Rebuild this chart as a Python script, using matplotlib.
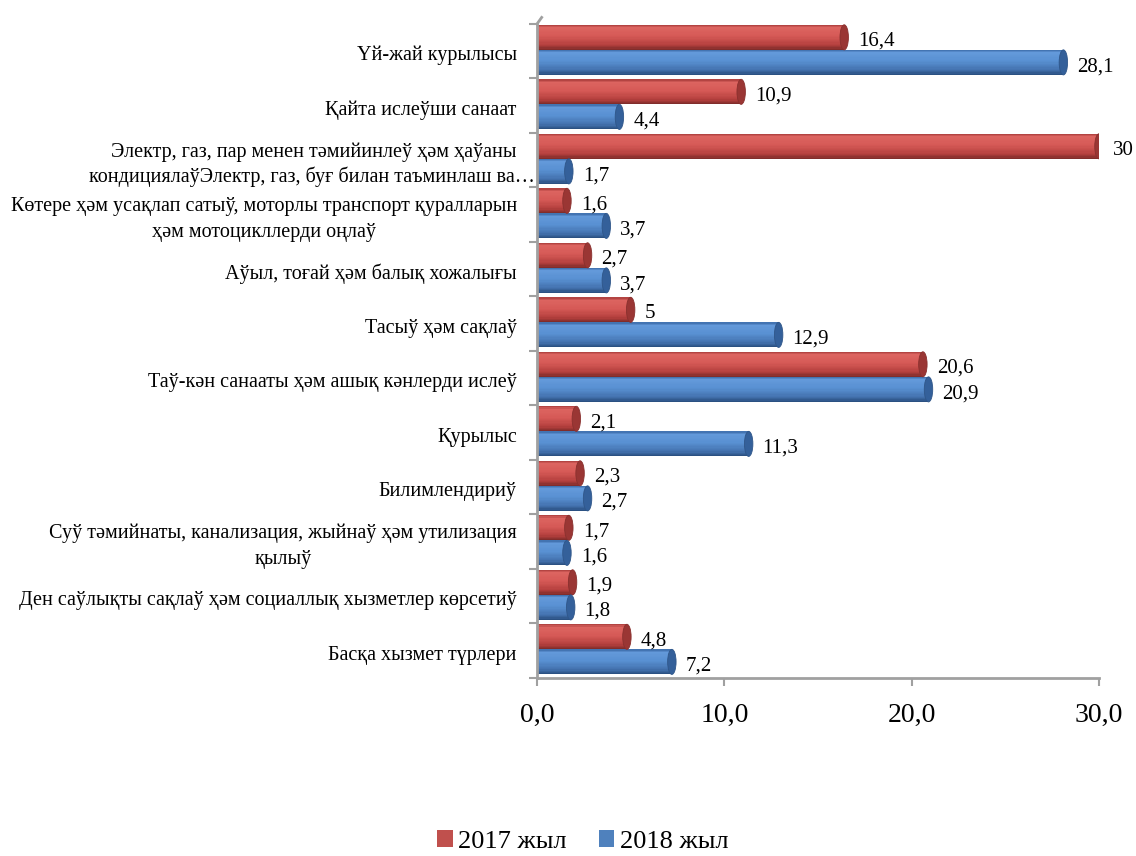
import numpy as np
import matplotlib
matplotlib.use("Agg")
import matplotlib.pyplot as plt
from matplotlib.patches import Ellipse, Patch
from matplotlib.colors import to_rgb
import matplotlib.transforms as mtransforms

plt.rcParams['font.family'] = ['Liberation Serif', 'DejaVu Serif']

categories = [
    "Үй-жай курылысы",
    "Қайта ислеўши санаат",
    "Электр, газ, пар менен тәмийинлеў ҳәм ҳаўаны\nкондициялаўЭлектр, газ, буғ билан таъминлаш ва…",
    "Көтере ҳәм усақлап сатыў, моторлы транспорт қуралларын\nҳәм мотоцикллерди оңлаў",
    "Аўыл, тоғай ҳәм балық хожалығы",
    "Тасыў ҳәм сақлаў",
    "Таў-кән санааты ҳәм ашық кәнлерди ислеў",
    "Қурылыс",
    "Билимлендириў",
    "Суў тәмийнаты, канализация, жыйнаў ҳәм утилизация\nқылыў",
    "Ден саўлықты сақлаў ҳәм социаллық хызметлер көрсетиў",
    "Басқа хызмет түрлери",
]
vals_2017 = [16.4, 10.9, 30, 1.6, 2.7, 5, 20.6, 2.1, 2.3, 1.7, 1.9, 4.8]
vals_2018 = [28.1, 4.4, 1.7, 3.7, 3.7, 12.9, 20.9, 11.3, 2.7, 1.6, 1.8, 7.2]
labels_2017 = ["16,4", "10,9", "30", "1,6", "2,7", "5", "20,6", "2,1", "2,3", "1,7", "1,9", "4,8"]
labels_2018 = ["28,1", "4,4", "1,7", "3,7", "3,7", "12,9", "20,9", "11,3", "2,7", "1,6", "1,8", "7,2"]
series_names = ["2017 жыл", "2018 жыл"]
xticks = [0, 10, 20, 30]

# cylinder shading, top to bottom
red_stops = [(0.0, "#A83C3A"), (0.12, "#DC6460"), (0.45, "#D55956"), (0.8, "#B5403E"), (1.0, "#7A2A28")]
blue_stops = [(0.0, "#3A6AA8"), (0.12, "#6399DA"), (0.45, "#5890D2"), (0.8, "#4372AE"), (1.0, "#284C7C")]


def shade(stops, t):
    pos = [s[0] for s in stops]
    cols = np.array([to_rgb(s[1]) for s in stops])
    return tuple(np.interp(t, pos, cols[:, k]) for k in range(3))


fig = plt.figure(figsize=(11.36, 8.56), dpi=100)
ax = fig.add_axes([0.4727, 0.208, 0.4947, 0.764])

y = np.arange(len(categories))
h = 0.46
n_slices = 20
series = [
    (vals_2017, labels_2017, y - 0.255, red_stops, "#9A3634", "#C0504D"),
    (vals_2018, labels_2018, y + 0.205, blue_stops, "#34609A", "#4F81BD"),
]

for vals, labs, yc, stops, cap_col, base in series:
    vals = np.array(vals, dtype=float)
    for k in range(n_slices):
        t = (k + 0.5) / n_slices
        off = -h / 2 + (k + 0.5) * h / n_slices
        ax.barh(yc + off, vals, height=h / n_slices * 1.05, color=shade(stops, t),
                linewidth=0, zorder=2)
    for v, yy, lab in zip(vals, yc, labs):
        ax.add_patch(Ellipse((v, yy), width=0.45, height=h, facecolor=cap_col,
                             edgecolor=shade(stops, 0.95), linewidth=0.6, zorder=3))
        ax.annotate(lab, (v, yy), xytext=(10, -3), textcoords="offset points",
                    ha="left", va="center", fontsize=15, zorder=4)

ax.set_xlim(0, 30)
ax.set_ylim(len(categories) - 0.5, -0.5)
ax.set_xticks(xticks)
ax.set_xticklabels([f"{t:.1f}".replace(".", ",") for t in xticks], fontsize=20)
ax.tick_params(axis="x", length=6, width=1.5, color="#A0A0A0", pad=12)

ax.set_yticks(np.arange(-0.5, len(categories) + 0.5, 1))
ax.set_yticklabels([])
ax.tick_params(axis="y", length=6, width=1.5, color="#A0A0A0")

trans = mtransforms.blended_transform_factory(ax.transAxes, ax.transData)
for i, cat in enumerate(categories):
    if i == 2:
        # the truncated second line runs past the others up to the wall
        first, second = cat.split("\n")
        ax.text(-0.036, i - 0.14, first, transform=trans, ha="right", va="center",
                fontsize=14.5)
        ax.text(-0.003, i + 0.31, second, transform=trans, ha="right", va="center",
                fontsize=14.5)
        continue
    ax.text(-0.036, i + 0.08, cat, transform=trans, ha="right", va="center",
            fontsize=14.5, multialignment="center" if i in (3, 9) else "right",
            linespacing=1.5)

# small perspective stub at the top of the wall
ax.plot([0, 0.25], [-0.5, -0.62], color="#A0A0A0", lw=2, clip_on=False, zorder=1)

for side in ["top", "right"]:
    ax.spines[side].set_visible(False)
for side in ["left", "bottom"]:
    ax.spines[side].set_color("#A0A0A0")
    ax.spines[side].set_linewidth(2)

handles = [Patch(facecolor=series[0][5]), Patch(facecolor=series[1][5])]
fig.legend(handles, series_names, loc="center", bbox_to_anchor=(0.513, 0.017),
           ncol=2, frameon=False, fontsize=19, handlelength=0.6, handleheight=0.6,
           handletextpad=0.2, columnspacing=1.2)

fig.savefig("out.png", dpi=100)
